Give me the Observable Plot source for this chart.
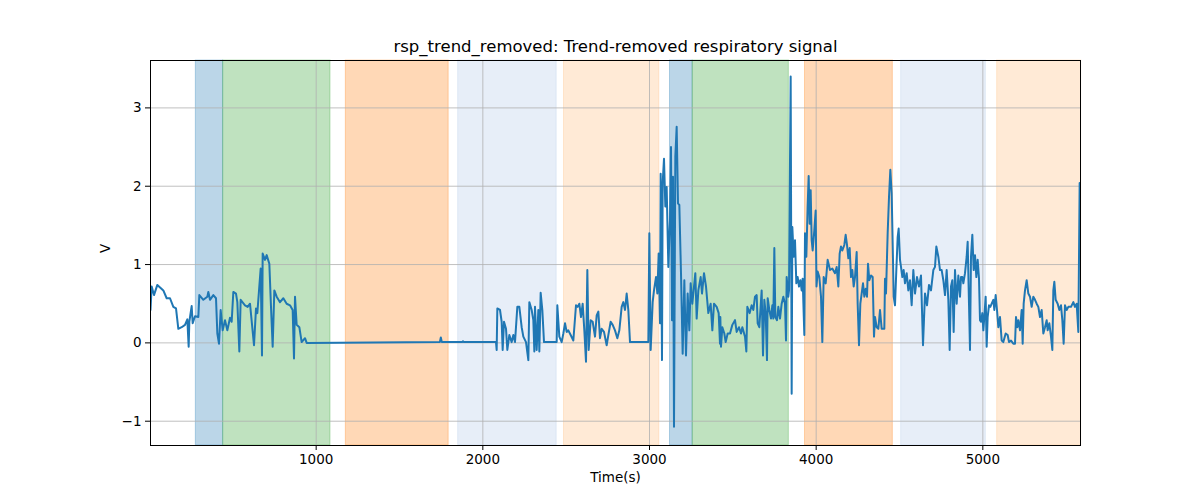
<!DOCTYPE html>
<html>
<head>
<meta charset="utf-8">
<script src="https://cdn.jsdelivr.net/npm/d3@7"></script>
<script src="https://cdn.jsdelivr.net/npm/@observablehq/plot@0.6"></script>
<style>
  html, body { margin: 0; padding: 0; background: white; }
  #chart { width: 1200px; height: 500px; }
</style>
</head>
<body>
<div id="chart"></div>
<script>
const titleText = "rsp_trend_removed: Trend-removed respiratory signal";
const xLabel = "Time(s)";
const yLabel = "V";
const xTicks = [1000, 2000, 3000, 4000, 5000];
const yTicks = [-1, 0, 1, 2, 3];

// shaded phases
const bandStart = [278, 442, 1178, 1852, 2487, 3123, 3259, 3933, 4510, 5086];
const bandEnd   = [442, 1086, 1795, 2443, 3059, 3259, 3836, 4460, 5018, 5590];
const bandKind  = [0, 1, 2, 3, 4, 0, 1, 2, 3, 4];
const palette = ["#1f77b4", "#2ca02c", "#ff7f0e", "#aec7e8", "#ffbb78"];

// signal
const time = [
6,13,27,47,83,103,123,143,159,173,193,213,227,235,239,253,259,273,293,299,
323,347,353,363,383,399,407,417,427,439,453,467,483,493,503,519,527,539,547,573,
589,603,627,639,647,667,675,679,693,703,719,729,739,749,763,783,803,823,843,859,
867,873,883,899,913,933,943,1742,1748,1754,1875,1881,1887,2079,
2083,2087,2103,2113,2119,2127,2139,2147,2159,2173,2183,2193,2207,2219,2233,2243,2259,2273,2279,2293,
2303,2309,2313,2323,2333,2339,2347,2357,2367,2443,2447,2459,2473,2483,2493,2503,2513,2527,2543,2559,
2569,2579,2589,2599,2609,2619,2627,2635,2647,2659,2673,2683,2693,2703,2713,2727,2743,2753,2767,2779,
2793,2807,2819,2833,2843,2853,2863,2873,2883,2993,
2999,3007,3019,3027,3039,3047,3055,3063,3067,3075,3079,3087,3095,3103,3113,3123,3129,3135,3141,3147,
3155,3163,3171,3179,3189,3199,3209,3219,3229,3239,3247,3257,3267,3275,3283,3293,3307,3315,3327,3339,
3353,3367,3377,3387,3403,3415,3423,3425,3429,3437,3449,3457,3469,3483,3497,3513,3523,3537,3549,3557,
3573,3581,3587,3601,3613,3623,3633,3643,3649,3659,3673,3681,3689,3697,3705,3709,3719,3729,3737,3743,
3749,3755,3765,3773,3783,3793,3803,3813,3819,3823,3833,3837,3847,3853,3857,3865,3873,3881,3889,3897,
3905,3913,3919,3929,3933,3941,3949,3955,3961,3967,3973,3979,3989,3997,4002,4009,4019,4029,4037,4045,
4057,4069,4083,4097,4113,4123,4133,4141,4149,4157,4169,4177,4185,4193,4201,4209,4217,4225,4233,4243,
4249,4257,4265,4273,4281,4289,4297,4305,4311,4319,4329,4339,4347,4353,4363,4373,4383,4393,4409,4413,
4419,4429,4437,4445,4453,4461,4465,4473,4481,4489,4495,4503,4509,4517,4525,4533,4543,4553,4563,4573,
4583,4593,4605,4617,4629,4641,4653,4665,4677,4689,4703,4713,4721,4733,4743,4753,4763,4773,4783,4793,
4801,4809,4817,4825,4833,4843,4853,4863,4869,4877,4883,4893,4903,4909,4917,4923,4929,4937,4945,4953,
4961,4969,4977,4983,4989,4997,5003,5009,5017,5023,5029,5037,5045,5053,5063,5069,5077,5085,5093,5103,
5113,5123,5137,5149,5157,5169,5183,5193,5199,5207,5213,5223,5233,5239,5245,5253,5263,5273,5283,5293,
5303,5313,5323,5333,5343,5353,5363,5373,5383,5389,5399,5409,5417,5423,5429,5437,5449,5459,5469,5477,
5485,5493,5503,5513,5529,5543,5553,5563,5573,5581
];
const value = [
0.42,0.72,0.61,0.74,0.67,0.57,0.57,0.46,0.44,0.18,0.20,0.23,0.30,-0.05,0.27,0.47,0.25,0.34,0.33,0.61,
0.55,0.59,0.65,0.55,0.61,0.57,0.12,-0.01,0.42,0.16,0.29,0.16,0.32,0.27,0.65,0.63,0.52,-0.11,0.55,0.48,
0.46,0.50,-0.03,0.44,0.38,0.95,-0.16,1.14,1.06,1.12,1.01,0.46,-0.05,0.67,0.59,0.52,0.57,0.50,0.48,0.42,
-0.20,0.59,0.23,0.20,0.01,0.06,0.00,0.01,0.07,0.01,0.01,0.02,0.01,0.01,
-0.09,0.44,0.42,0.27,-0.09,0.27,0.18,-0.09,0.10,0.01,0.10,0.01,0.46,0.46,0.20,0.08,0.01,-0.22,0.52,0.42,
0.29,-0.11,0.46,-0.09,0.42,-0.11,0.64,0.42,0.01,0.01,0.48,0.08,0.01,0.12,0.25,0.14,0.16,0.10,0.03,0.48,
0.46,0.50,0.33,0.50,0.16,-0.24,0.93,-0.09,0.29,0.27,0.08,0.35,0.40,0.06,0.18,0.14,-0.03,0.10,0.27,0.23,
0.16,0.06,0.16,0.46,0.52,0.42,0.63,0.42,0.01,0.01,
1.40,-0.09,0.52,0.67,0.84,0.63,1.14,0.25,2.16,-0.22,2.04,2.35,1.74,1.99,0.97,1.57,2.50,0.29,2.12,-1.07,
2.38,2.76,1.78,1.76,0.89,-0.14,0.80,-0.16,0.63,0.16,0.76,0.50,0.72,0.89,0.31,0.67,0.84,0.63,0.89,0.72,
0.38,0.50,0.16,0.50,0.46,0.38,-0.01,0.33,-0.05,0.20,0.12,0.01,0.12,0.12,0.23,0.29,0.14,0.20,0.12,0.20,
0.08,-0.11,0.46,0.38,0.48,0.42,0.59,0.61,0.25,0.20,0.67,-0.16,0.55,0.38,-0.22,0.57,0.42,0.31,0.48,0.31,
1.21,0.33,0.29,0.46,0.31,0.50,0.59,0.50,0.03,0.84,0.59,0.67,3.40,-0.65,1.48,1.10,1.31,0.76,0.84,0.72,
0.80,0.67,0.82,0.10,1.40,1.10,1.75,2.13,1.52,1.95,1.31,1.18,1.44,1.69,0.72,0.91,0.84,0.59,0.01,0.84,
0.76,1.06,0.93,0.95,0.89,0.97,0.72,1.14,1.23,1.18,1.25,1.38,1.25,1.08,1.21,0.84,0.93,0.72,0.84,1.16,
0.50,-0.03,0.50,0.63,0.76,0.59,0.69,0.59,1.01,0.80,0.86,0.84,0.08,0.33,0.20,0.18,0.42,0.18,0.18,0.82,
0.63,1.40,1.86,2.21,1.91,1.06,0.59,0.48,0.93,1.35,1.46,1.06,0.97,0.84,0.93,0.76,0.89,0.67,0.80,0.48,
0.93,0.63,0.84,0.72,0.86,-0.03,0.63,0.48,0.74,0.67,0.93,0.97,1.23,1.10,0.93,0.93,0.80,0.61,0.93,0.55,
-0.09,0.72,0.80,0.14,0.93,0.50,0.86,0.59,0.84,0.84,0.76,0.89,1.10,1.29,0.50,-0.09,1.10,1.38,0.93,1.12,
0.84,1.06,0.82,0.29,0.27,0.38,0.16,0.33,0.59,-0.05,0.33,0.48,0.46,0.50,0.55,0.42,0.61,0.42,0.20,0.33,
0.03,0.01,0.12,0.10,0.01,0.03,-0.01,-0.01,0.33,0.20,0.29,0.16,0.42,-0.01,0.50,0.67,0.80,0.63,0.59,0.46,
0.59,0.55,0.50,0.46,0.33,0.42,0.12,0.20,0.29,0.16,0.25,0.08,-0.09,0.67,0.78,0.55,0.50,0.42,0.48,0.29,
-0.01,0.48,0.42,0.46,0.46,0.52,0.46,0.50,0.14,2.04
];

const bands = bandStart.map((s, i) => ({x1: s, x2: bandEnd[i], color: palette[bandKind[i]]}));
const signal = time.map((t, i) => ({t, v: value[i]}));
const fmt = d => (d < 0 ? "\u2212" + Math.abs(d) : String(d));

const chart = Plot.plot({
  width: 1200,
  height: 500,
  marginLeft: 150,
  marginRight: 120,
  marginTop: 60,
  marginBottom: 55,
  style: {fontFamily: "DejaVu Sans", fontSize: "13.5px", color: "black", background: "white"},
  x: {domain: [6, 5586]},
  y: {domain: [-1.31, 3.605]},
  marks: [
    Plot.rect(bands, {x1: "x1", x2: "x2", fill: "color", fillOpacity: 0.3, stroke: "color", strokeOpacity: 0.3, strokeWidth: 1}),
    Plot.gridX(xTicks, {stroke: "#b0b0b0", strokeOpacity: 1, strokeWidth: 0.8}),
    Plot.gridY(yTicks, {stroke: "#b0b0b0", strokeOpacity: 1, strokeWidth: 0.8}),
    Plot.line(signal, {x: "t", y: "v", stroke: "#1f77b4", strokeWidth: 2, clip: true}),
    Plot.frame({stroke: "black", strokeWidth: 1}),
    Plot.axisX(xTicks, {tickSize: 5, tickPadding: 4, label: null, tickFormat: fmt, fontSize: 13.5}),
    Plot.axisY(yTicks, {tickSize: 5, tickPadding: 4, label: null, tickFormat: fmt, fontSize: 13.5}),
    Plot.text([titleText], {frameAnchor: "top", dy: -20, fontSize: 16.5}),
    Plot.text([xLabel], {frameAnchor: "bottom", dy: 36, fontSize: 13.5}),
    Plot.text([yLabel], {frameAnchor: "left", dx: -45, rotate: -90, fontSize: 13.5})
  ]
});
document.getElementById("chart").appendChild(chart);
</script>
</body>
</html>
